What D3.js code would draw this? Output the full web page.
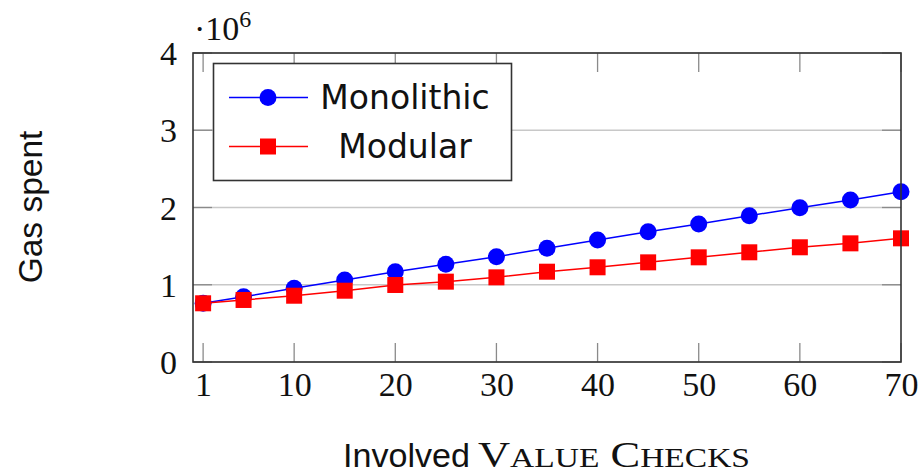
<!DOCTYPE html>
<html>
<head>
<meta charset="utf-8">
<script src="https://cdn.jsdelivr.net/npm/d3@7/dist/d3.min.js"></script>
<style>
    html, body { margin: 0; padding: 0; background: #fff; }
    svg { display: block; }
</style>
</head>
<body>
<svg class="graph" width="922" height="475"></svg>
<script>
(() => {
    'use strict';

    // involved value checks
    const checks = [1, 5, 10, 15, 20, 25, 30, 35, 40, 45, 50, 55, 60, 65, 70];
    // gas spent
    const monolithic = [760000, 845000, 954000, 1061000, 1169000, 1265000, 1363000, 1472000,
                        1579000, 1687000, 1786000, 1894000, 1998000, 2097000, 2205000];
    const modular = [760000, 803000, 858000, 923000, 997000, 1040000, 1096000, 1169000,
                     1226000, 1290000, 1355000, 1420000, 1485000, 1536000, 1601000];
    const xTicks = [1, 10, 20, 30, 40, 50, 60, 70];
    const yTicks = [0, 1e6, 2e6, 3e6, 4e6];
    const seriesNames = ['Monolithic', 'Modular'];

    const left = 193,
          right = 901,
          top = 53,
          bottom = 362,
          tickLen = 19,
          serif = '"Liberation Serif", "DejaVu Serif", serif',
          sans = '"DejaVu Sans", sans-serif',
          narrowSans = '"Liberation Sans", Arial, sans-serif',
          svg = d3.select('.graph'),
          xScale = d3.scaleLinear().domain([0, 70]).range([left, right]),
          yScale = d3.scaleLinear().domain([0, 4e6]).range([bottom, top]);

    // horizontal grid
    svg.append('g')
        .selectAll('line')
        .data(yTicks)
        .enter()
        .append('line')
        .attr('x1', left)
        .attr('x2', right)
        .attr('y1', d => { return yScale(d); })
        .attr('y2', d => { return yScale(d); })
        .attr('stroke', '#c8c8c8')
        .attr('stroke-width', 1.3);

    // inner ticks, all four sides
    const ticks = svg.append('g')
        .attr('stroke', '#8a8a8a')
        .attr('stroke-width', 1.3);

    xTicks.forEach(t => {
        ticks.append('line')
            .attr('x1', xScale(t)).attr('x2', xScale(t))
            .attr('y1', bottom).attr('y2', bottom - tickLen);
        ticks.append('line')
            .attr('x1', xScale(t)).attr('x2', xScale(t))
            .attr('y1', top).attr('y2', top + tickLen);
    });
    yTicks.forEach(t => {
        ticks.append('line')
            .attr('x1', left).attr('x2', left + tickLen)
            .attr('y1', yScale(t)).attr('y2', yScale(t));
        ticks.append('line')
            .attr('x1', right).attr('x2', right - tickLen)
            .attr('y1', yScale(t)).attr('y2', yScale(t));
    });

    // axes (labels only, the frame is drawn separately)
    const xAxis = d3.axisBottom(xScale)
        .tickValues(xTicks)
        .tickSize(0)
        .tickPadding(10);
    const yAxis = d3.axisLeft(yScale)
        .tickValues(yTicks)
        .tickSize(0)
        .tickPadding(16)
        .tickFormat(d => { return d / 1e6; });

    const gx = svg.append('g')
        .attr('transform', 'translate(0,' + bottom + ')')
        .call(xAxis);
    const gy = svg.append('g')
        .attr('transform', 'translate(' + left + ',0)')
        .call(yAxis);

    [gx, gy].forEach(g => {
        g.select('.domain').remove();
        g.selectAll('text')
            .attr('font-family', serif)
            .attr('font-size', 34)
            .attr('fill', '#111');
    });
    gy.selectAll('text').attr('dy', '0.34em');

    // series
    const line = d3.line()
        .x((d, i) => { return xScale(checks[i]); })
        .y(d => { return yScale(d); });

    svg.append('path')
        .datum(monolithic)
        .attr('d', line)
        .attr('fill', 'none')
        .attr('stroke', '#0000ff')
        .attr('stroke-width', 1.5);

    svg.append('g')
        .selectAll('circle')
        .data(monolithic)
        .enter()
        .append('circle')
        .attr('cx', (d, i) => { return xScale(checks[i]); })
        .attr('cy', d => { return yScale(d); })
        .attr('r', 8.5)
        .attr('fill', '#0000ff');

    svg.append('path')
        .datum(modular)
        .attr('d', line)
        .attr('fill', 'none')
        .attr('stroke', '#ff0000')
        .attr('stroke-width', 1.5);

    svg.append('g')
        .selectAll('rect')
        .data(modular)
        .enter()
        .append('rect')
        .attr('x', (d, i) => { return xScale(checks[i]) - 8; })
        .attr('y', d => { return yScale(d) - 8; })
        .attr('width', 16)
        .attr('height', 16)
        .attr('fill', '#ff0000');

    // frame
    svg.append('rect')
        .attr('x', left)
        .attr('y', top)
        .attr('width', right - left)
        .attr('height', bottom - top)
        .attr('fill', 'none')
        .attr('stroke', '#333')
        .attr('stroke-width', 1.6);

    // scale factor
    const scaleLabel = svg.append('text')
        .attr('x', 194)
        .attr('y', 40)
        .attr('font-family', serif)
        .attr('font-size', 34)
        .attr('fill', '#111');
    scaleLabel.append('tspan').text('\u00b710');
    scaleLabel.append('tspan')
        .attr('font-size', 24)
        .attr('dy', -13)
        .text('6');

    // legend
    const legend = svg.append('g');
    legend.append('rect')
        .attr('x', 213.5)
        .attr('y', 63.5)
        .attr('width', 298)
        .attr('height', 117)
        .attr('fill', '#fff')
        .attr('stroke', '#333')
        .attr('stroke-width', 1.6);

    const rows = [97.5, 146.5];
    const colors = ['#0000ff', '#ff0000'];
    rows.forEach((y, i) => {
        legend.append('line')
            .attr('x1', 229).attr('x2', 308)
            .attr('y1', y).attr('y2', y)
            .attr('stroke', colors[i])
            .attr('stroke-width', 1.5);
        if (i === 0) {
            legend.append('circle')
                .attr('cx', 268).attr('cy', y).attr('r', 8.5)
                .attr('fill', colors[i]);
        } else {
            legend.append('rect')
                .attr('x', 260).attr('y', y - 8)
                .attr('width', 16).attr('height', 16)
                .attr('fill', colors[i]);
        }
        legend.append('text')
            .attr('x', 405)
            .attr('y', y)
            .attr('dy', '0.36em')
            .attr('text-anchor', 'middle')
            .attr('font-family', sans)
            .attr('font-size', 33)
            .attr('fill', '#111')
            .text(seriesNames[i]);
    });

    // axis titles
    svg.append('text')
        .attr('transform', 'translate(42,207) rotate(-90)')
        .attr('text-anchor', 'middle')
        .attr('font-family', narrowSans)
        .attr('font-size', 33.5)
        .attr('fill', '#111')
        .text('Gas spent');

    svg.append('text')
        .attr('x', 343)
        .attr('y', 467)
        .attr('font-family', narrowSans)
        .attr('font-size', 34)
        .attr('fill', '#111')
        .attr('textLength', 127)
        .attr('lengthAdjust', 'spacingAndGlyphs')
        .text('Involved');

    // small caps drawn by hand: capitals full size, the rest smaller
    const smallCaps = svg.append('text')
        .attr('x', 478)
        .attr('y', 467)
        .attr('font-family', serif)
        .attr('font-size', 36.5)
        .attr('fill', '#111')
        .attr('textLength', 272)
        .attr('lengthAdjust', 'spacingAndGlyphs');
    [['V', false], ['ALUE', true], [' C', false], ['HECKS', true]].forEach(part => {
        smallCaps.append('tspan')
            .attr('font-size', part[1] ? 27.5 : 36.5)
            .text(part[0]);
    });
})();
</script>
</body>
</html>
